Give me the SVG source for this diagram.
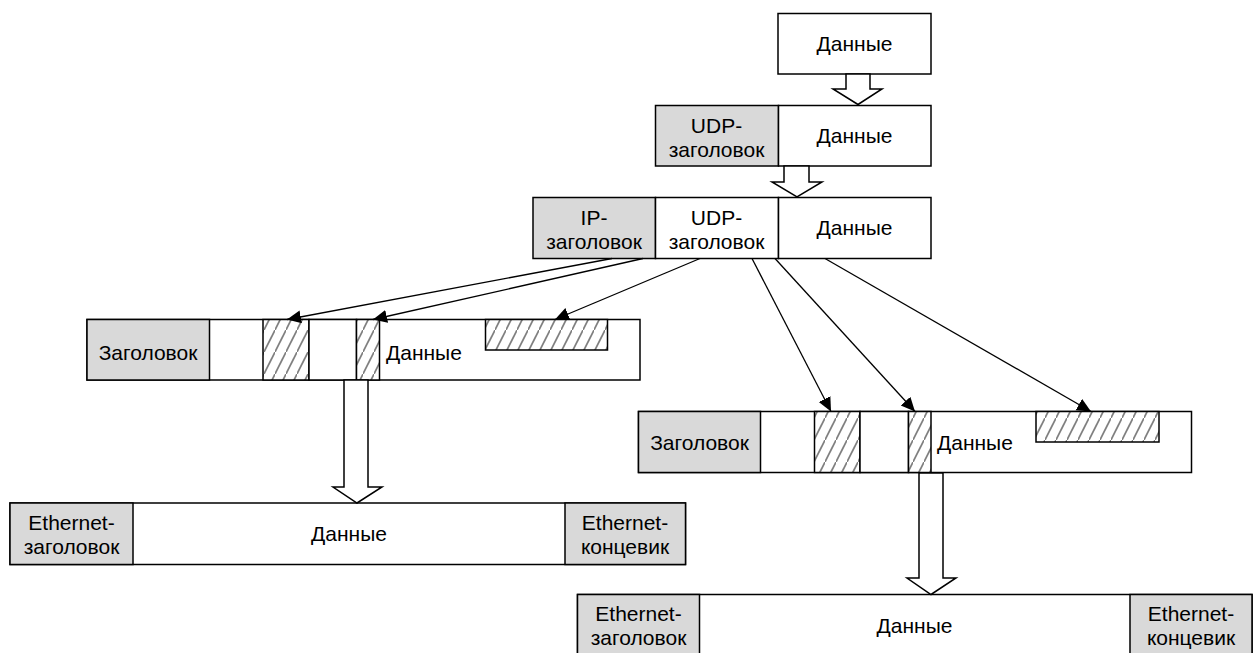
<svg xmlns="http://www.w3.org/2000/svg" width="1258" height="653" viewBox="0 0 1258 653">
<defs>
<style>
.b{fill:#fff;stroke:#000;stroke-width:1.5}
.g{fill:#d9d9d9;stroke:#000;stroke-width:1.5}
.h{fill:url(#hatch);stroke:#000;stroke-width:1.5}
.t{font-family:"Liberation Sans",Arial,sans-serif;font-size:21px;fill:#000}
.c{text-anchor:middle}
.ln{fill:none;stroke:#000;stroke-width:1.3;marker-end:url(#ah)}
.ba{fill:#fff;stroke:#000;stroke-width:1.5}
</style>
<pattern id="hatch" patternUnits="userSpaceOnUse" width="11" height="22">
<rect width="11" height="22" fill="#fff"/>
<line x1="-1" y1="24" x2="12" y2="-2" stroke="#808080" stroke-width="1.7"/>
</pattern>
<marker id="ah" markerUnits="userSpaceOnUse" markerWidth="16" markerHeight="14" refX="14" refY="6.5" orient="auto">
<path d="M0,0 L14,6.5 L0,13 Z" fill="#000"/>
</marker>
</defs>

<g id="data-top">
<rect class="b" x="778" y="13.5" width="153" height="60.5"/>
<text class="t c" x="854.5" y="51">Данные</text>
</g>

<g id="udp-packet">
<rect class="g" x="655.5" y="105.5" width="123" height="60.5"/>
<rect class="b" x="778.5" y="105.5" width="152.5" height="60.5"/>
<text class="t c" x="716.5" y="133">UDP-</text>
<text class="t c" x="716.5" y="157">заголовок</text>
<text class="t c" x="854.5" y="143">Данные</text>
</g>

<g id="ip-packet">
<rect class="g" x="533" y="197.5" width="122.5" height="61"/>
<rect class="b" x="655.5" y="197.5" width="123" height="61"/>
<rect class="b" x="778.5" y="197.5" width="152.5" height="61"/>
<text class="t c" x="594" y="225">IP-</text>
<text class="t c" x="594" y="249">заголовок</text>
<text class="t c" x="716.5" y="225">UDP-</text>
<text class="t c" x="716.5" y="249">заголовок</text>
<text class="t c" x="854.5" y="235">Данные</text>
</g>

<g id="frame-left">
<rect class="b" x="87" y="319.5" width="553" height="60.5"/>
<rect class="g" x="87" y="319.5" width="122.5" height="60.5"/>
<rect class="h" x="263" y="319.5" width="46" height="60.5"/>
<rect class="b" x="309" y="319.5" width="47.5" height="60.5"/>
<rect class="h" x="356.5" y="319.5" width="23" height="60.5"/>
<rect class="h" x="485.5" y="319.5" width="122" height="30.5"/>
<text class="t c" x="148" y="360">Заголовок</text>
<text class="t" x="386" y="360">Данные</text>
</g>

<g id="frame-right">
<rect class="b" x="638.5" y="411.5" width="553" height="61"/>
<rect class="g" x="638.5" y="411.5" width="122" height="61"/>
<rect class="h" x="814.5" y="411.5" width="45.5" height="61"/>
<rect class="b" x="860" y="411.5" width="48.5" height="61"/>
<rect class="h" x="908.5" y="411.5" width="22.5" height="61"/>
<rect class="h" x="1036" y="411.5" width="123" height="30.5"/>
<text class="t c" x="699.5" y="450">Заголовок</text>
<text class="t" x="937" y="450">Данные</text>
</g>

<g id="eth-left">
<rect class="b" x="10" y="503" width="675.5" height="61.5"/>
<rect class="g" x="10" y="503" width="123" height="61.5"/>
<rect class="g" x="565" y="503" width="120.5" height="61.5"/>
<text class="t c" x="71.5" y="530">Ethernet-</text>
<text class="t c" x="71.5" y="554">заголовок</text>
<text class="t c" x="349" y="541">Данные</text>
<text class="t c" x="625" y="530">Ethernet-</text>
<text class="t c" x="625" y="554">концевик</text>
</g>

<g id="eth-right">
<rect class="b" x="577.5" y="594.5" width="674.5" height="62"/>
<rect class="g" x="577.5" y="594.5" width="122" height="62"/>
<rect class="g" x="1130" y="594.5" width="122" height="62"/>
<text class="t c" x="638.5" y="621">Ethernet-</text>
<text class="t c" x="638.5" y="645">заголовок</text>
<text class="t c" x="914.5" y="633">Данные</text>
<text class="t c" x="1191" y="621">Ethernet-</text>
<text class="t c" x="1191" y="645">концевик</text>
</g>

<g id="connectors">
<polygon class="ba" points="846,74 846,89 833,89 858,104.5 882,89 870,89 870,74"/>
<polygon class="ba" points="784,166 784,182 772,182 797,197 822,182 809,182 809,166"/>
<polygon class="ba" points="344,380 344,487 333,487 357,503 382,487 368,487 368,380"/>
<polygon class="ba" points="919,473 919,578 907,578 931,594.5 956,578 943,578 943,473"/>
<path class="ln" d="M612,258.5 L287,319.5"/>
<path class="ln" d="M643,258.5 L373,319.5"/>
<path class="ln" d="M700,258.5 L555,319.5"/>
<path class="ln" d="M752,258.5 L831,411.5"/>
<path class="ln" d="M775,258.5 L915,411.5"/>
<path class="ln" d="M825,258.5 L1091,411.5"/>
</g>
</svg>
